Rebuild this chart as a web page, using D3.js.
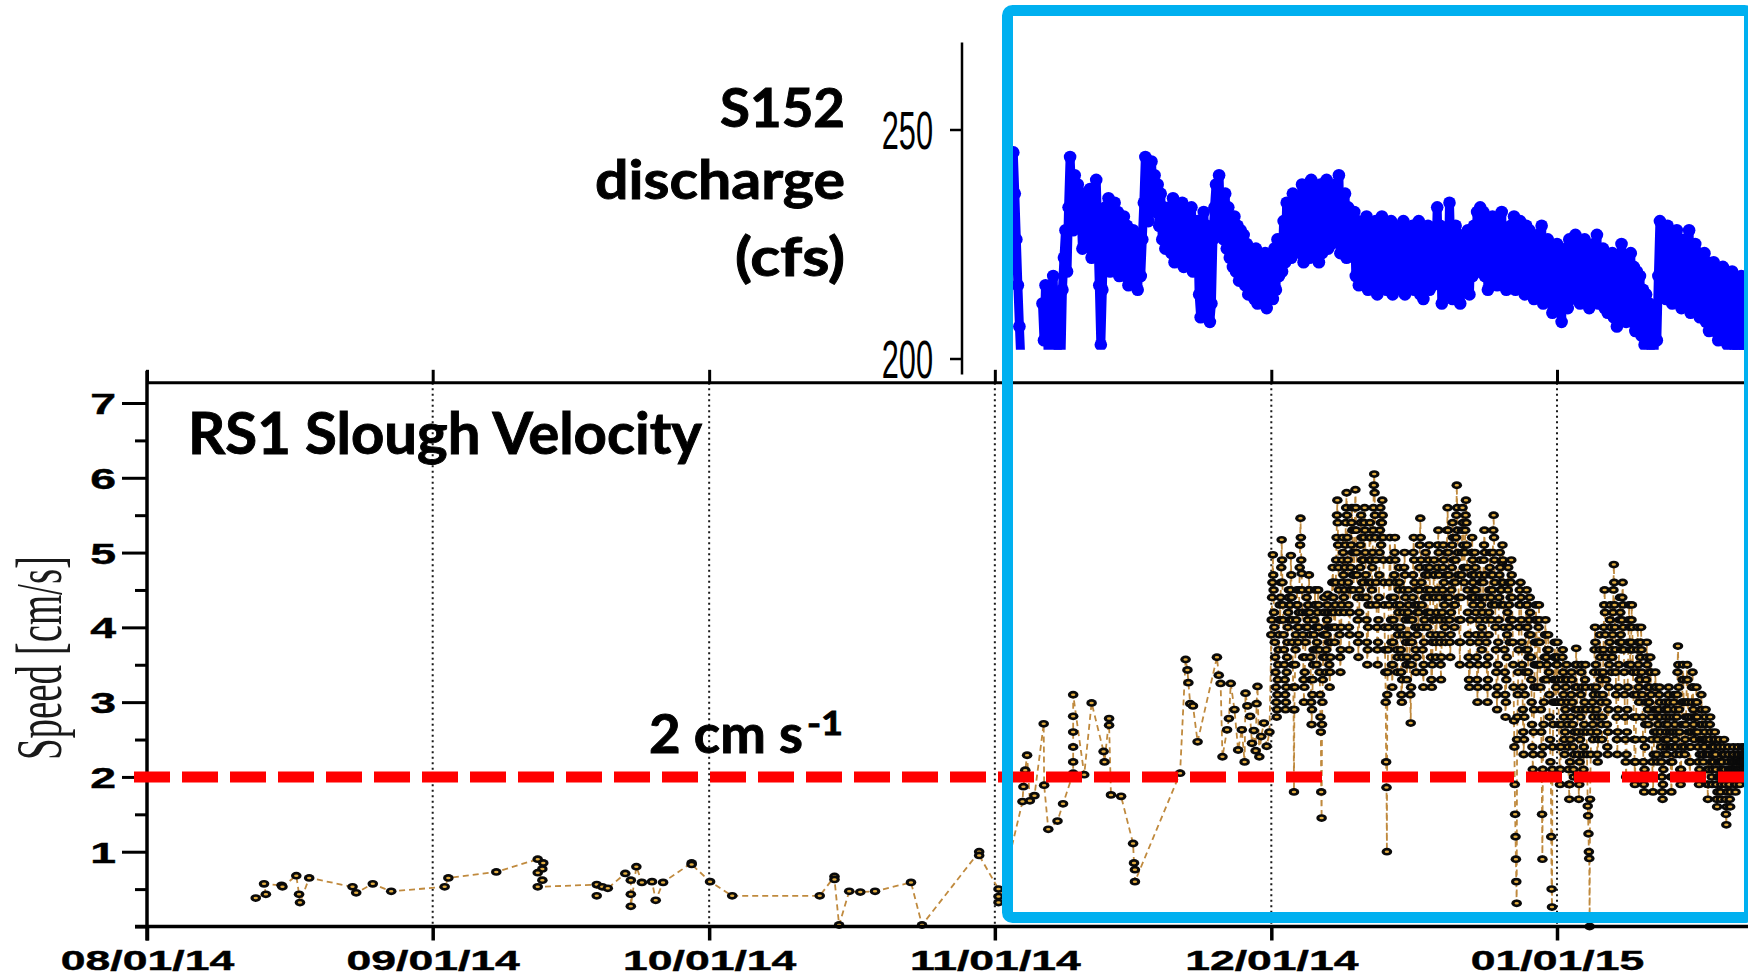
<!DOCTYPE html>
<html>
<head>
<meta charset="utf-8">
<script src="https://cdn.jsdelivr.net/npm/d3@7"></script>
<style>
  html, body { margin: 0; padding: 0; background: #ffffff; }
  svg { display: block; }
</style>
</head>
<body>
<svg id="chart" width="1748" height="976"></svg>
<script>
// ---------------- data ----------------
const monthTicks = ["2014-08-01", "2014-09-01", "2014-10-01", "2014-11-01", "2014-12-01", "2015-01-01"];
const speedTicks = [1, 2, 3, 4, 5, 6, 7];
const speedMinorTicks = [0, 0.5, 1.5, 2.5, 3.5, 4.5, 5.5, 6.5];
const dischargeTicks = [200, 250];
const thresholdSpeed = 2; // cm/s

// RS1 slough speed, sparse record Aug–Nov: [days after 2014-08-01, speed cm/s]
const speedSparse = [
  [11.8,0.38],[12.9,0.43],[12.7,0.57],[14.6,0.55],[14.7,0.53],[16.2,0.68],[16.5,0.43],[16.6,0.32],
  [17.6,0.65],[22.3,0.53],[22.7,0.45],[24.5,0.57],[26.5,0.47],[32.3,0.53],[32.7,0.65],[37.9,0.73],
  [42.4,0.90],[43.0,0.85],[42.9,0.77],[42.4,0.72],[42.9,0.62],[42.4,0.53],[48.8,0.56],[48.8,0.41],
  [49.4,0.53],[50.0,0.51],[51.9,0.71],[52.5,0.62],[52.5,0.43],[52.5,0.27],[53.1,0.80],[53.7,0.59],
  [54.8,0.60],[55.2,0.35],[56.0,0.59],[59.1,0.85],[59.1,0.83],[61.1,0.60],[63.5,0.41],[73.0,0.41],
  [74.6,0.67],[74.6,0.63],[75.1,0.02],[76.2,0.47],[77.4,0.46],[79.0,0.47],[82.9,0.59],[84.1,0.02],
  [90.3,1.00],[90.3,0.95],[92.4,0.50],[92.4,0.40],[92.4,0.32],
  [95.0,1.67],[95.1,1.87],[95.3,2.09],[95.5,2.29],[95.8,1.68],[96.3,1.75],[97.3,2.71],[97.35,1.89],
  [97.8,1.30],[98.8,1.41],[99.4,1.64],[100.5,2.05],[100.5,2.20],[100.5,2.40],[100.5,2.60],[100.5,2.81],
  [100.5,3.10],[101.7,2.03],[102.5,2.99],[103.8,2.34],[103.9,2.20],[104.4,2.78],[104.4,2.69],[104.6,1.76],
  [105.7,1.74],[107.0,1.11],[107.1,0.85],[107.2,0.76],[107.2,0.60],[112.1,2.05],[112.7,3.57],[112.9,3.43],
  [113.0,3.26],[113.2,2.98],[113.5,2.95],[114.0,2.47],[116.1,3.60],[116.3,3.36],[116.5,3.25],[116.7,2.27],
  [117.2,2.63],[117.4,2.78],[117.6,3.25],[118.0,2.90],[118.4,2.36],[118.8,2.63],[119.1,2.20],[119.2,3.12],
  [119.4,2.95],[119.7,2.81],[119.9,2.45],[120.1,2.62],[120.3,2.35],[120.4,2.98],[120.5,3.21],[120.7,2.27],
  [120.9,2.54],[121.2,2.72],[121.5,2.41],[121.8,2.60]
];

// RS1 slough speed from 2014-12-01, hourly readings, one row per day (cm/s)
const speedDenseStart = "2014-12-01";
const speedDaily = [
  [3.9,4.1,4.4,4.6,4.97,4.7,4.5,4.2,4.0,3.8,3.6,3.4,3.2,3.0,2.8,2.9,3.1,3.3,3.5,3.7,3.9,4.1,4.3,4.1],
  [4.4,4.6,4.8,5.17,4.9,4.6,4.3,4.1,3.9,3.7,3.5,3.3,3.1,2.9,3.0,3.2,3.4,3.6,3.8,4.0,4.2,4.4,4.5,4.3],
  [4.1,4.3,4.5,4.96,4.7,4.4,4.1,3.8,3.5,3.2,2.9,1.8,2.9,3.2,3.5,3.7,3.9,4.1,4.3,4.5,4.3,4.0,3.8,4.0],
  [4.2,4.5,4.8,5.1,5.46,5.2,4.9,4.72,4.5,4.2,3.9,3.6,3.3,3.0,3.2,3.4,3.6,3.8,4.0,4.2,4.4,4.2,4.0,4.1],
  [4.3,4.5,4.7,4.5,4.2,3.9,3.6,3.3,3.0,2.7,2.9,3.1,3.3,3.5,3.7,3.9,4.1,4.3,4.5,4.3,4.0,3.7,3.5,3.8],
  [4.0,4.2,4.5,4.3,4.0,3.7,3.4,3.1,2.8,2.6,1.8,1.45,2.7,3.0,3.3,3.6,3.9,4.2,4.4,4.2,3.9,3.6,3.4,3.7],
  [3.9,4.1,4.3,4.44,4.2,4.0,3.8,3.5,3.2,3.4,3.6,3.8,4.0,4.2,4.4,4.6,4.8,4.6,4.4,4.2,4.0,3.8,4.0,4.3],
  [4.6,4.9,5.2,5.5,5.7,5.4,5.1,4.8,4.5,4.2,3.9,3.6,3.4,3.7,4.0,4.3,4.6,4.9,5.2,5.0,4.7,4.4,4.2,4.5],
  [4.8,5.1,5.4,5.6,5.8,5.5,5.2,4.9,4.6,4.3,4.0,3.7,3.9,4.2,4.5,4.8,5.1,5.4,5.6,5.3,5.0,4.7,4.5,4.7],
  [5.0,5.3,5.6,5.84,5.6,5.3,5.0,4.7,4.4,4.1,3.8,3.6,3.9,4.2,4.5,4.8,5.1,5.4,5.5,5.2,4.9,4.6,4.4,4.6],
  [4.9,5.2,5.4,5.6,5.3,5.0,4.7,4.4,4.1,3.8,3.5,3.7,4.0,4.3,4.6,4.9,5.2,5.4,5.2,4.9,4.6,4.3,4.5,4.8],
  [5.0,5.3,5.6,5.9,6.05,5.8,5.5,5.2,4.9,4.6,4.3,4.0,3.7,3.5,3.8,4.1,4.4,4.7,5.0,5.3,5.6,5.4,5.1,5.2],
  [5.4,5.7,5.5,5.2,4.9,4.6,4.3,4.0,3.7,3.4,3.0,2.2,1.86,1.0,3.1,3.4,3.7,4.0,4.3,4.6,4.9,5.2,4.9,4.4],
  [4.1,3.8,3.5,3.2,3.5,3.8,4.1,4.4,4.7,5.0,5.2,4.9,4.6,4.3,4.0,3.7,3.4,3.6,3.9,4.2,4.5,4.8,4.6,4.3],
  [4.0,3.7,3.4,3.1,3.0,3.3,3.6,3.9,4.2,4.5,4.8,5.0,4.7,4.4,4.1,3.8,3.5,3.3,3.6,3.9,4.2,4.5,4.3,4.1],
  [3.8,3.5,3.1,2.72,3.2,3.5,3.8,4.1,4.4,4.7,5.0,5.2,4.9,4.6,4.3,4.0,3.7,3.4,3.6,3.9,4.2,4.5,4.3,4.0],
  [4.2,4.5,4.8,5.1,5.46,5.2,4.9,4.6,4.3,4.0,3.7,3.4,3.2,3.5,3.8,4.1,4.4,4.7,5.0,4.8,4.5,4.2,4.0,4.2],
  [4.4,4.7,4.9,5.1,4.8,4.5,4.2,3.9,3.6,3.3,3.2,3.5,3.8,4.1,4.4,4.7,4.9,4.7,4.4,4.1,3.8,3.6,3.9,4.2],
  [4.5,4.8,5.1,5.3,5.0,4.7,4.4,4.1,3.8,3.5,3.3,3.6,3.9,4.2,4.5,4.8,5.1,4.9,4.6,4.3,4.0,3.8,4.1,4.4],
  [4.7,5.0,5.3,5.6,5.3,5.0,4.7,4.4,4.1,3.8,3.6,3.9,4.2,4.5,4.8,5.1,5.4,5.2,4.9,4.6,4.3,4.0,4.3,4.6],
  [4.9,5.2,5.5,5.9,5.6,5.3,5.0,4.7,4.4,4.1,3.8,3.5,3.8,4.1,4.4,4.7,5.0,5.3,5.6,5.4,5.1,4.8,4.6,4.8],
  [5.0,5.3,5.5,5.7,5.4,5.1,4.8,4.5,4.2,3.9,3.6,3.3,3.2,3.5,3.8,4.1,4.4,4.7,5.0,5.2,4.9,4.6,4.3,4.5],
  [4.4,4.7,5.0,4.8,4.5,4.2,3.9,3.6,3.3,3.0,3.2,3.5,3.8,4.1,4.4,4.7,4.9,4.6,4.3,4.0,3.7,3.9,4.2,4.4],
  [4.6,4.9,5.1,5.3,5.0,4.7,4.4,4.1,3.8,3.5,3.2,3.0,3.3,3.6,3.9,4.2,4.5,4.8,5.0,4.7,4.4,4.1,4.3,4.5],
  [4.7,5.0,5.3,5.5,5.2,4.9,4.6,4.3,4.0,3.7,3.4,3.1,2.9,3.2,3.5,3.8,4.1,4.4,4.7,5.0,4.8,4.5,4.3,4.5],
  [4.6,4.87,5.1,4.9,4.6,4.3,4.0,3.7,3.4,3.1,2.8,3.0,3.3,3.6,3.9,4.2,4.5,4.8,4.6,4.3,4.0,3.8,4.1,4.4],
  [4.6,4.9,4.7,4.4,4.1,3.8,3.5,3.2,2.75,2.4,1.9,1.5,1.2,0.9,0.6,0.31,2.5,2.8,3.1,3.4,3.7,4.0,4.3,4.5],
  [4.3,4.6,4.4,4.1,3.8,3.5,3.2,2.9,2.6,2.3,2.5,2.8,3.1,3.4,3.7,4.0,4.3,4.5,4.3,4.0,3.7,3.4,3.6,3.9],
  [4.1,4.4,4.2,3.9,3.6,3.3,3.0,2.7,2.4,2.1,2.3,2.6,2.9,3.2,3.5,3.8,4.1,4.3,4.1,3.8,3.5,3.2,3.5,3.8],
  [4.0,4.3,4.1,3.8,3.5,3.2,2.9,2.6,2.3,1.5,0.9,2.1,2.4,2.7,3.0,3.3,3.6,3.9,4.1,3.9,3.6,3.3,3.5,3.7],
  [3.7,3.9,3.7,3.4,3.1,2.8,2.5,2.2,2.0,1.2,0.5,0.26,2.1,2.4,2.7,3.0,3.3,3.6,3.8,3.6,3.3,3.0,3.2,3.5],
  [3.5,3.8,3.6,3.3,3.0,2.7,2.4,2.1,1.9,2.1,2.4,2.7,3.0,3.3,3.6,3.7,3.4,3.1,2.8,2.5,2.3,2.6,2.9,3.2],
  [3.3,3.5,3.3,3.0,2.7,2.4,2.1,1.9,1.7,1.9,2.2,2.5,2.8,3.1,3.4,3.3,3.0,2.7,2.4,2.1,2.0,2.3,2.6,2.9],
  [3.2,3.5,3.72,3.5,3.2,2.9,2.6,2.3,2.0,1.7,1.9,2.2,2.5,2.8,3.1,3.4,3.5,3.2,2.9,2.6,2.3,2.1,2.4,2.7],
  [3.0,3.3,3.5,3.2,2.9,2.6,2.3,2.0,1.61,1.48,1.24,1.0,0.91,0.0,1.7,2.0,2.3,2.6,2.9,3.2,3.0,2.7,2.5,2.8],
  [3.1,3.4,3.7,4.0,3.8,3.5,3.2,2.9,2.6,2.3,2.2,2.5,2.8,3.1,3.4,3.7,3.9,3.6,3.3,3.0,2.7,2.5,2.8,3.1],
  [3.4,3.7,4.0,4.3,4.5,4.2,3.9,3.6,3.3,3.0,2.7,2.4,2.3,2.6,2.9,3.2,3.5,3.8,4.1,4.3,4.0,3.7,3.4,3.6],
  [3.6,3.9,4.2,4.5,4.84,4.6,4.3,4.0,3.7,3.4,3.1,2.8,2.5,2.3,2.6,2.9,3.2,3.5,3.8,4.1,4.4,4.2,3.9,3.7],
  [3.8,4.1,4.4,4.6,4.3,4.0,3.7,3.4,3.1,2.8,2.5,2.2,2.0,2.3,2.6,2.9,3.2,3.5,3.8,4.1,4.3,4.0,3.7,3.5],
  [3.5,3.8,4.1,4.3,4.0,3.7,3.4,3.1,2.8,2.5,2.2,1.9,2.2,2.5,2.8,3.1,3.4,3.7,4.0,3.8,3.5,3.2,3.0,3.3],
  [3.3,3.6,3.8,4.0,3.7,3.4,3.1,2.8,2.5,2.2,1.9,1.8,2.1,2.4,2.7,3.0,3.3,3.6,3.8,3.5,3.2,2.9,2.7,3.0],
  [3.0,3.2,3.4,3.6,3.4,3.1,2.8,2.5,2.2,2.0,1.8,2.0,2.3,2.6,2.9,3.2,3.4,3.2,2.9,2.6,2.3,2.2,2.5,2.8],
  [2.7,2.9,3.1,3.2,3.0,2.8,2.6,2.4,2.2,2.0,1.8,1.7,1.9,2.1,2.3,2.5,2.7,2.9,3.0,2.8,2.6,2.4,2.3,2.5],
  [2.7,2.9,3.1,3.2,3.0,2.8,2.6,2.4,2.2,2.0,1.8,2.0,2.2,2.4,2.6,2.8,3.0,3.1,2.9,2.7,2.5,2.3,2.4,2.6],
  [2.8,3.1,3.4,3.75,3.5,3.2,2.9,2.6,2.3,2.1,1.9,2.1,2.4,2.7,3.0,3.3,3.5,3.3,3.0,2.7,2.4,2.3,2.5,2.7],
  [2.8,3.0,3.3,3.5,3.3,3.0,2.8,2.6,2.4,2.2,2.0,2.2,2.4,2.6,2.8,3.0,3.2,3.4,3.2,2.9,2.7,2.5,2.6,2.8],
  [2.6,2.8,3.0,3.2,3.0,2.8,2.6,2.4,2.2,2.0,1.9,2.1,2.3,2.5,2.7,2.9,3.1,2.9,2.7,2.5,2.3,2.2,2.4,2.5],
  [2.4,2.6,2.8,2.9,2.7,2.5,2.3,2.1,1.9,1.7,1.9,2.1,2.3,2.5,2.7,2.8,2.6,2.4,2.2,2.0,1.9,2.1,2.3,2.4],
  [2.2,2.4,2.5,2.6,2.5,2.3,2.1,1.9,1.7,1.6,1.8,2.0,2.2,2.4,2.5,2.4,2.2,2.0,1.8,1.7,1.9,2.1,2.2,2.3],
  [2.1,2.3,2.4,2.5,2.3,2.1,1.9,1.7,1.5,1.36,1.6,1.8,2.0,2.2,2.4,2.3,2.1,1.9,1.7,1.6,1.8,2.0,2.1,2.2],
  [2.1,2.2,2.3,2.4,2.3,2.2,2.1,2.0,1.9,1.8,1.9,2.0,2.1,2.2,2.3,2.4,2.3,2.2,2.1,2.0,1.9,2.0,2.1,2.2],
  [2.2,2.3,2.4,2.3,2.2,2.1,2.0,2.1,2.2,2.3,2.4,2.3,2.2,2.1,2.0,2.1,2.2,2.3,2.4,2.3,2.2,2.1,2.2,2.3]
];

// S152 discharge from 2014-11-03, six 4-hourly readings per day (cfs); null = no record
const dischargeStart = "2014-11-03";
const dischargeDaily = [
  [245,236,226,216,207,199],
  [null,null,null,null,null,null],
  [null,null,null,null,null,null],
  [null,212,204,216,207,199],
  [214,205,218,200,210,203],
  [209,199,215,222,228,219],
  [233,244,236,228,240,231],
  [238,229,235,224,236,227],
  [234,226,237,222,232,228],
  [239,228,216,203,215,230],
  [233,222,235,219,231,224],
  [234,220,232,218,230,223],
  [231,218,229,216,227,220],
  [228,219,226,215,224,218],
  [226,234,244,236,230,240],
  [243,235,240,232,238,229],
  [236,226,233,224,231,228],
  [233,223,235,221,230,225],
  [232,222,234,220,229,224],
  [231,221,233,219,228,223],
  [230,214,209,222,232,225],
  [229,220,208,212,226,233],
  [238,229,240,227,235,226],
  [236,224,233,222,231,220],
  [231,219,229,217,228,218],
  [227,216,225,214,223,215],
  [222,213,224,212,220,214],
  [221,212,223,211,219,213],
  [220,213,224,215,226,218],
  [226,219,230,221,234,224],
  [232,222,236,224,233,226],
  [235,223,238,221,233,225],
  [237,222,239,224,234,226],
  [236,221,238,223,232,227],
  [239,224,236,225,234,228],
  [238,226,240,223,235,225],
  [236,222,233,224,231,226],
  [232,218,230,216,229,221],
  [230,216,231,215,228,219],
  [229,215,230,214,227,218],
  [231,216,229,215,228,220],
  [230,214,228,216,226,219],
  [229,215,230,214,227,218],
  [228,216,229,215,226,217],
  [230,214,228,213,227,218],
  [229,215,227,216,226,219],
  [233,218,229,212,226,217],
  [228,214,234,222,213,226],
  [229,215,227,212,225,216],
  [227,216,228,214,226,218],
  [229,221,232,219,233,222],
  [232,218,230,215,229,220],
  [231,217,229,216,230,219],
  [232,216,228,215,227,218],
  [229,217,231,215,226,219],
  [230,216,228,214,229,218],
  [228,215,227,213,226,217],
  [227,214,229,212,225,216],
  [226,213,224,210,223,215],
  [225,212,222,208,221,214],
  [224,211,226,213,222,215],
  [227,214,225,212,224,216],
  [226,213,224,211,223,215],
  [225,213,227,212,222,214],
  [224,211,223,210,221,213],
  [223,209,222,207,220,212],
  [225,210,221,208,222,211],
  [223,208,220,206,219,210],
  [218,205,215,203,214,206],
  [212,203,208,199,210,204],
  [218,230,226,215,228,213],
  [229,214,227,212,226,215],
  [228,213,226,211,225,214],
  [226,212,228,210,224,213],
  [225,211,223,209,222,212],
  [223,208,221,206,220,209],
  [221,206,219,204,218,207],
  [220,204,217,203,216,206],
  [219,203,216,201,215,205],
  [218,203,215,201,214,205]
];

// ---------------- scales ----------------
const W = 1748, H = 976;
const DAY = 864e5;
const parseDay = d3.utcParse("%Y-%m-%d");
const months = monthTicks.map(parseDay);
const origin = months[0].getTime();

const x = d3.scaleUtc().domain([months[0], months[months.length - 1]]).range([147, 1557]);
const y = d3.scaleLinear().domain([0, 7]).range([926.5, 403]);
const speedTop = 7.27;                                   // top of the speed frame
const yQ = d3.scaleLinear().domain([200, 250]).range([358.5, 129.5]);
const qAxisRange = [196.5, 269];                         // extent of the discharge axis line
const qClipMin = 201.9;                                  // lower edge of the discharge panel
const qAxisX = 962;

const svg = d3.select("#chart");
svg.append("rect").attr("width", W).attr("height", H).attr("fill", "#fff");

// ---------------- series ----------------
const sparsePts = speedSparse.map(([d, v]) => ({ t: new Date(origin + d * DAY), v }));
const dStart = parseDay(speedDenseStart).getTime();
const densePts = speedDaily.flatMap((day, i) =>
  day.map((v, k) => ({ t: new Date(dStart + (i + k / day.length) * DAY), v })));
const speedPts = sparsePts.concat(densePts);

const qStart = parseDay(dischargeStart).getTime();
const qPts = dischargeDaily.flatMap((day, i) =>
  day.map((v, k) => ({ t: new Date(qStart + (i + k / day.length) * DAY), v })));

// ---------------- speed panel ----------------
const left = x(months[0]);
const frameTop = y(speedTop);

// dotted monthly grid
svg.append("g").selectAll("line").data(months.slice(1)).join("line")
  .attr("x1", d => x(d)).attr("x2", d => x(d))
  .attr("y1", frameTop).attr("y2", y(0))
  .attr("stroke", "#1a1a1a").attr("stroke-width", 2)
  .attr("stroke-dasharray", "2,3.5");

// connecting trace
const speedLine = d3.line().x(d => x(d.t)).y(d => y(d.v));
svg.append("path").datum(speedPts)
  .attr("d", speedLine)
  .attr("fill", "none")
  .attr("stroke", "#c08a3e")
  .attr("stroke-width", 1.8)
  .attr("stroke-dasharray", "6,4");

// markers: dark oval with a small gold centre, drawn in time order
const marker = svg.append("g").selectAll("g").data(speedPts).join("g")
  .attr("transform", d => `translate(${x(d.t)},${y(d.v)})`);
marker.append("ellipse").attr("rx", 5.3).attr("ry", 3.9).attr("fill", "#0a0a0a");
marker.append("ellipse").attr("rx", 2.2).attr("ry", 1.25).attr("fill", "#e3ad40");

// axes frame lines
svg.append("line").attr("x1", left - 12).attr("x2", W).attr("y1", y(0)).attr("y2", y(0))
  .attr("stroke", "#000").attr("stroke-width", 3.5);
svg.append("line").attr("x1", left).attr("x2", W).attr("y1", frameTop).attr("y2", frameTop)
  .attr("stroke", "#000").attr("stroke-width", 3);
svg.append("line").attr("x1", left).attr("x2", left).attr("y1", y(0) + 14).attr("y2", frameTop - 12)
  .attr("stroke", "#000").attr("stroke-width", 3.5);

// bottom date axis
const fmt = d3.utcFormat("%m/%d/%y");
const xAxisG = svg.append("g").attr("transform", `translate(0,${y(0)})`)
  .call(d3.axisBottom(x).tickValues(months).tickSize(14).tickFormat(fmt));
xAxisG.select(".domain").remove();
xAxisG.selectAll(".tick line").attr("stroke", "#000").attr("stroke-width", 3.5);
xAxisG.selectAll(".tick text")
  .attr("y", null).attr("dy", null)
  .attr("transform", "translate(0,43) scale(1.62,1)")
  .attr("fill", "#000")
  .attr("stroke", "#000").attr("stroke-width", 0.4)
  .style("font-family", "'Liberation Sans', Arial, sans-serif")
  .style("font-weight", "bold")
  .style("font-size", "27.5px");

// ticks on the upper frame
const topTickG = svg.append("g").attr("transform", `translate(0,${frameTop})`)
  .call(d3.axisTop(x).tickValues(months).tickSize(13).tickFormat(""));
topTickG.select(".domain").remove();
topTickG.selectAll(".tick line").attr("stroke", "#000").attr("stroke-width", 3);

// speed axis
const yAxisG = svg.append("g").attr("transform", `translate(${left},0)`)
  .call(d3.axisLeft(y).tickValues(speedTicks).tickSize(25).tickFormat(d3.format("d")));
yAxisG.select(".domain").remove();
yAxisG.selectAll(".tick line").attr("stroke", "#000").attr("stroke-width", 3);
yAxisG.selectAll(".tick text")
  .attr("x", null).attr("dy", null)
  .attr("transform", "translate(-31,10.5) scale(1.6,1)")
  .attr("fill", "#000")
  .attr("stroke", "#000").attr("stroke-width", 0.4)
  .style("font-family", "'Liberation Sans', Arial, sans-serif")
  .style("font-weight", "bold")
  .style("font-size", "29px");
const yMinorG = svg.append("g").attr("transform", `translate(${left},0)`)
  .call(d3.axisLeft(y).tickValues(speedMinorTicks).tickSize(12).tickFormat(""));
yMinorG.select(".domain").remove();
yMinorG.selectAll(".tick line").attr("stroke", "#000").attr("stroke-width", 3);

// speed axis title
svg.append("text")
  .attr("transform", `translate(61,${y(3.59)}) rotate(-90)`)
  .attr("text-anchor", "middle")
  .attr("textLength", 204).attr("lengthAdjust", "spacingAndGlyphs")
  .style("font-family", "'Liberation Serif', 'Times New Roman', serif")
  .style("font-size", "66px")
  .attr("fill", "#1a1a1a")
  .text("Speed [cm/s]");

// 2 cm/s threshold
svg.append("line")
  .attr("x1", left - 13).attr("x2", W)
  .attr("y1", y(thresholdSpeed)).attr("y2", y(thresholdSpeed))
  .attr("stroke", "#ff0000").attr("stroke-width", 11)
  .attr("stroke-dasharray", "36,12");

// ---------------- discharge panel ----------------
svg.append("clipPath").attr("id", "qclip")
  .append("rect").attr("x", qAxisX).attr("y", 0)
  .attr("width", W - qAxisX).attr("height", yQ(qClipMin));

const qG = svg.append("g").attr("clip-path", "url(#qclip)");
const qLine = d3.line().defined(d => d.v != null).x(d => x(d.t)).y(d => yQ(d.v));
qG.append("path").datum(qPts)
  .attr("d", qLine)
  .attr("fill", "none").attr("stroke", "#0000ff")
  .attr("stroke-width", 9).attr("stroke-linejoin", "round").attr("stroke-linecap", "round");
qG.selectAll("circle").data(qPts.filter(d => d.v != null)).join("circle")
  .attr("cx", d => x(d.t)).attr("cy", d => yQ(d.v))
  .attr("r", 6.3).attr("fill", "#0000ff");

svg.append("line").attr("x1", qAxisX).attr("x2", qAxisX)
  .attr("y1", yQ(qAxisRange[1])).attr("y2", yQ(qAxisRange[0]))
  .attr("stroke", "#000").attr("stroke-width", 2.5);
const qAxisG = svg.append("g").attr("transform", `translate(${qAxisX},0)`)
  .call(d3.axisLeft(yQ).tickValues(dischargeTicks).tickSize(12).tickFormat(d3.format("d")));
qAxisG.select(".domain").remove();
qAxisG.selectAll(".tick line").attr("stroke", "#000").attr("stroke-width", 2.5);
qAxisG.selectAll(".tick text")
  .attr("x", null).attr("dy", null)
  .attr("transform", "translate(-29,19) scale(0.58,1)")
  .attr("fill", "#000")
  .style("font-family", "'Liberation Sans', Arial, sans-serif")
  .style("font-size", "53px");

// ---------------- annotations ----------------
const label = (txt, xPos, yPos, size, len, anchor) =>
  svg.append("text")
    .attr("x", xPos).attr("y", yPos)
    .attr("text-anchor", anchor)
    .attr("textLength", len).attr("lengthAdjust", "spacingAndGlyphs")
    .style("font-family", "Lato, 'Open Sans', sans-serif")
    .style("font-weight", "bold")
    .style("font-size", size + "px")
    .attr("fill", "#000")
    .attr("stroke", "#000").attr("stroke-width", 0.9)
    .text(txt);

label("S152", 845, 126.7, 53, 125, "end");
label("discharge", 845, 199, 53, 250, "end");
label("(cfs)", 845, 276, 53, 110, "end");
label("RS1 Slough Velocity", 188, 454, 57, 514, "start");
label("2 cm s", 649, 753, 53, 154, "start");
label("-1", 843, 735, 32, 36, "end");

// highlight box
svg.append("rect")
  .attr("x", 1007.5).attr("y", 10.5)
  .attr("width", 742).attr("height", 907)
  .attr("rx", 5)
  .attr("fill", "none")
  .attr("stroke", "#00b0f0")
  .attr("stroke-width", 11);
</script>
</body>
</html>
